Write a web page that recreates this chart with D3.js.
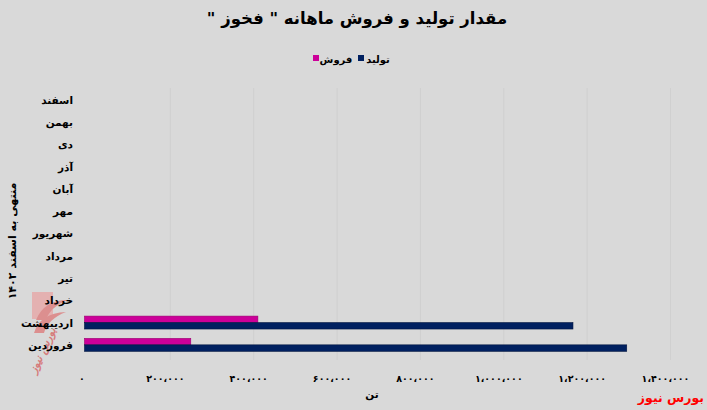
<!DOCTYPE html>
<html><head><meta charset="utf-8">
<script src="https://cdn.jsdelivr.net/npm/d3@7/dist/d3.min.js"></script>
<style>
html,body{margin:0;padding:0;background:#d9d9d9;}
svg{display:block;}
text{font-family:"DejaVu Sans",sans-serif;font-weight:bold;}
</style></head>
<body>
<svg id="c" width="707" height="410"></svg>
<script>
const months = ["اسفند","بهمن","دی","آذر","آبان","مهر","شهریور","مرداد","تیر","خرداد","اردیبهشت","فروردین"];
const production = [null,null,null,null,null,null,null,null,null,null,1172000,1301000];
const sales      = [null,null,null,null,null,null,null,null,null,null,416000,255000];
const tickValues = [0,200000,400000,600000,800000,1000000,1200000,1400000];
const tickLabels = ["۰","۲۰۰،۰۰۰","۴۰۰،۰۰۰","۶۰۰،۰۰۰","۸۰۰،۰۰۰","۱،۰۰۰،۰۰۰","۱،۲۰۰،۰۰۰","۱،۴۰۰،۰۰۰"];
const seriesNames = ["تولید","فروش"];
const colors = ["#002060","#cc0099"];

const svg = d3.select("#c");
svg.append("rect").attr("width",707).attr("height",410).attr("fill","#d9d9d9");

const x = d3.scaleLinear().domain([0,1400000]).range([84.5,668]);
const y = d3.scaleBand().domain(months).range([88.5,356]).paddingInner(0.42).paddingOuter(0.21);

// gridlines
svg.append("g").selectAll("line").data(tickValues.slice(1)).join("line")
  .attr("x1",d=>x(d)+2.5).attr("x2",d=>x(d)+2.5).attr("y1",88).attr("y2",360)
  .attr("stroke","#d0d0d0").attr("stroke-width",1);

// watermark (left)
const wm = svg.append("g").attr("opacity",0.5);
wm.append("rect").attr("x",32).attr("y",292).attr("width",21).attr("height",27).attr("fill","#f08a8a");
wm.append("path").attr("d","M36 320 Q44 300 68 300 Q50 307 46 320 Z").attr("fill","#e04848");
wm.append("path").attr("d","M34 333 Q40 313 66 312 Q48 319 44 333 Z").attr("fill","#e04848");
wm.append("text").attr("transform","translate(46,352) rotate(-65)").attr("text-anchor","middle")
  .attr("font-size",11).attr("fill","#d42020").attr("font-style","italic").text("بورس نیوز");

// bars
const bh = y.bandwidth()/2;
const gBars = svg.append("g");
[sales, production].forEach((arr, si) => {
  const idx = si===0 ? 1 : 0;
  gBars.selectAll(null).data(months.map((m,i)=>({m, v:arr[i]})).filter(d=>d.v!=null)).join("rect")
    .attr("x", x(0))
    .attr("y", d => y(d.m) + (si===0 ? 0 : bh))
    .attr("width", d => x(d.v)-x(0))
    .attr("height", bh)
    .attr("fill", colors[idx])
    .attr("stroke", idx===0 ? "#001440" : "#99006f")
    .attr("stroke-width", 0.6);
});

// y axis labels
svg.append("g").selectAll("text").data(months).join("text")
  .attr("x",73).attr("y",d=>y(d)+y.bandwidth()/2+4)
  .attr("text-anchor","end").attr("font-size",10.5).attr("fill","#000")
  .text(d=>d);

// x axis labels
const xAxis = d3.axisBottom(x).tickValues(tickValues).tickSize(0)
  .tickFormat((d,i)=>tickLabels[i]);
const gx = svg.append("g").attr("transform","translate(-3,372)").call(xAxis);
gx.select(".domain").remove();
gx.selectAll("text").attr("font-size",9.5).attr("fill","#000")
  .style("font-family","\"DejaVu Sans\",sans-serif").style("font-weight","bold");

// axis titles
svg.append("text").attr("x",372).attr("y",398).attr("text-anchor","middle").attr("font-size",10.5).text("تن");
svg.append("text").attr("transform","translate(16,241) rotate(-90)").attr("text-anchor","middle")
  .attr("font-size",11).text("منتهی به اسفند ۱۴۰۲");

// title
svg.append("text").attr("x",357).attr("y",24).attr("text-anchor","middle").attr("direction","rtl")
  .attr("font-size",16.5).attr("fill","#000").text("مقدار تولید و فروش ماهانه \" فخوز \"");

// legend
const leg = [{name:seriesNames[1],c:colors[1],sx:313,tx:336},{name:seriesNames[0],c:colors[0],sx:358,tx:378}];
leg.forEach(l=>{
  svg.append("rect").attr("x",l.sx).attr("y",55).attr("width",6).attr("height",6).attr("fill",l.c);
  svg.append("text").attr("x",l.tx).attr("y",63).attr("text-anchor","middle").attr("font-size",10).text(l.name);
});

// source
svg.append("text").attr("x",704).attr("y",402).attr("text-anchor","end").attr("font-size",12.5)
  .attr("fill","#ff0000").text("بورس نیوز");
</script>
</body></html>
